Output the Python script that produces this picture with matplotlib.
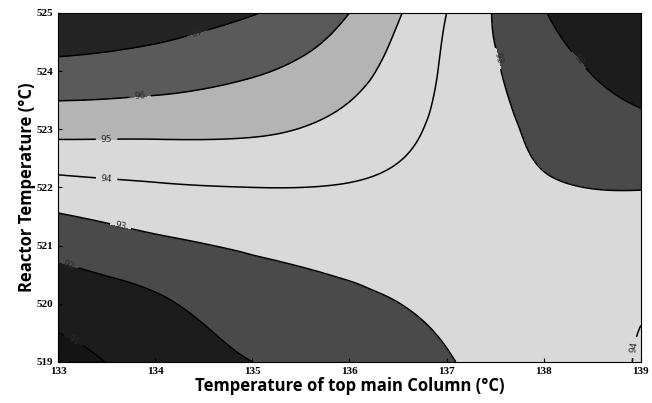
import matplotlib.pyplot as plt
import matplotlib.tri as mtri
import numpy as np

# grid nodes (°C) and yield values at each node
col_temp = [133, 134, 135, 136, 137, 138, 139]
reactor_temp = [519, 520, 521, 522, 523, 524, 525]
z_rows = [
    [90.70, 91.35, 92.00, 92.48, 92.95, 93.49, 94.05],  # 519
    [91.35, 91.84, 92.53, 92.83, 93.20, 93.60, 93.93],  # 520
    [92.30, 92.79, 93.10, 93.31, 93.50, 93.50, 93.50],  # 521
    [93.65, 93.89, 94.00, 93.94, 93.60, 93.10, 92.97],  # 522
    [95.28, 95.24, 95.15, 94.67, 93.75, 92.80, 92.27],  # 523
    [96.68, 96.49, 96.10, 95.35, 93.85, 92.46, 91.56],  # 524
    [98.00, 97.55, 97.05, 96.00, 94.00, 92.05, 91.00],  # 525
]

fill_levels = [89, 91, 92, 93, 95, 96, 97, 99]
fill_colors = ['#141414', '#1c1c1c', '#4a4a4a', '#d9d9d9', '#b4b4b4', '#5a5a5a', '#242424']
line_levels = [91, 92, 93, 94, 95, 96, 97]

X, Y = np.meshgrid(col_temp, reactor_temp)
Z = np.array(z_rows)

tri = mtri.Triangulation(X.ravel(), Y.ravel())
interp = mtri.CubicTriInterpolator(tri, Z.ravel(), kind='min_E')
tri_f, z_f = mtri.UniformTriRefiner(tri).refine_field(Z.ravel(), subdiv=4, triinterpolator=interp)

fig = plt.figure(figsize=(6.52, 4.03), dpi=100)
ax = fig.add_axes([0.089, 0.102, 0.894, 0.866])

ax.tricontourf(tri_f, z_f, levels=fill_levels, colors=fill_colors)
cs = ax.tricontour(tri_f, z_f, levels=line_levels, colors='black', linewidths=1.1)
ax.clabel(cs, fmt='%d', fontsize=6.5, inline=True, colors='#2a2a2a')

ax.set_xlim(133, 139)
ax.set_ylim(519, 525)
ax.set_xticks(col_temp)
ax.set_yticks(reactor_temp)
ax.tick_params(direction='in', length=3, labelsize=8)
for lbl in ax.get_xticklabels() + ax.get_yticklabels():
    lbl.set_family('Liberation Serif')
    lbl.set_fontweight('bold')

ax.set_xlabel('Temperature of top main Column (°C)', family='Open Sans',
              fontweight='bold', fontsize=12, labelpad=1)
ax.set_ylabel('Reactor Temperature (°C)', family='Open Sans',
              fontweight='bold', fontsize=12, labelpad=0)

fig.savefig('out.png', dpi=100)
